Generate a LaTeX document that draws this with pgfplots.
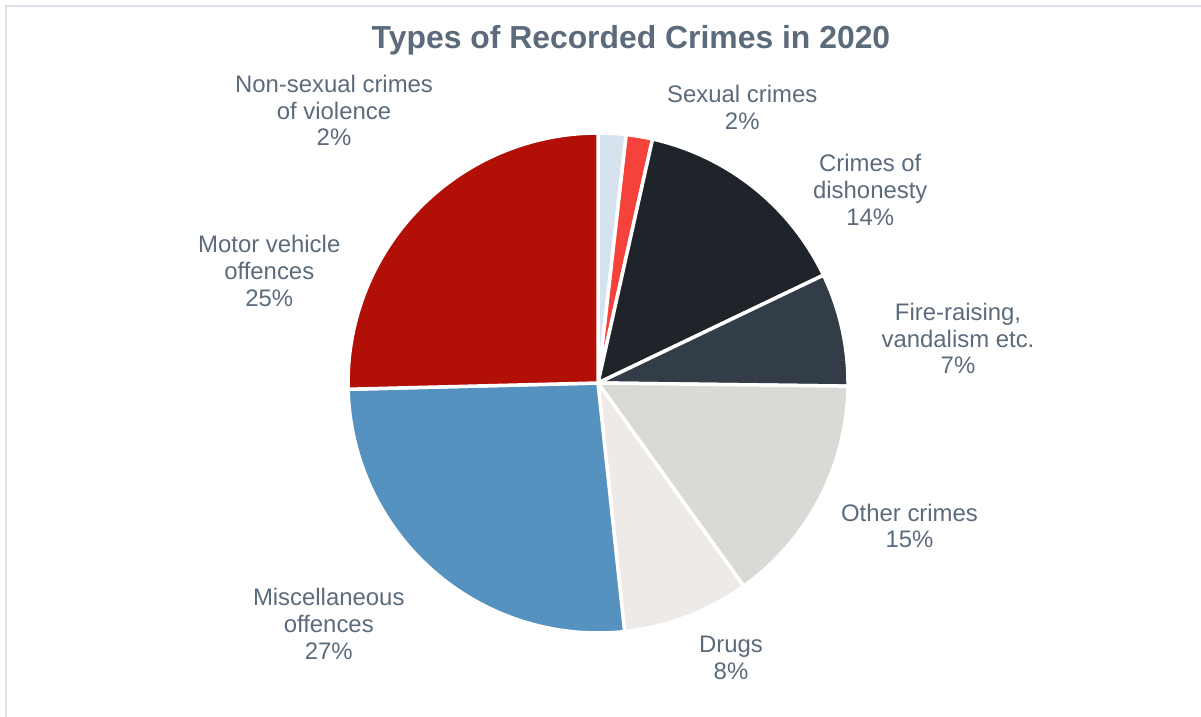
\documentclass[border=0pt]{standalone}
\usepackage{pgfplots}
\pgfplotsset{compat=1.18}
\usepackage{fontspec}
\setmainfont{Liberation Sans}
\definecolor{txt}{HTML}{5B6B7C}
\definecolor{frame}{HTML}{DCE3EB}
\definecolor{cA}{HTML}{D6E3EE}
\definecolor{cB}{HTML}{F5423A}
\definecolor{cC}{HTML}{1F242B}
\definecolor{cD}{HTML}{333D48}
\definecolor{cE}{HTML}{D9D9D5}
\definecolor{cF}{HTML}{EEEAE7}
\definecolor{cG}{HTML}{5592BF}
\definecolor{cH}{HTML}{B20F07}
\tikzset{lbl/.style={text=txt, align=center, font=\fontsize{24}{27}\selectfont}}
% shares in percent, clockwise from the top
\def\vA{1.8}  % Non-sexual crimes of violence
\def\vB{1.7}  % Sexual crimes
\def\vC{14.4} % Crimes of dishonesty
\def\vD{7.3}  % Fire-raising, vandalism etc.
\def\vE{14.9} % Other crimes
\def\vF{8.2}  % Drugs
\def\vG{26.3} % Miscellaneous offences
\def\vH{25.4} % Motor vehicle offences
\pgfmathsetmacro\aA{90}
\pgfmathsetmacro\aB{\aA-3.6*\vA}
\pgfmathsetmacro\aC{\aB-3.6*\vB}
\pgfmathsetmacro\aD{\aC-3.6*\vC}
\pgfmathsetmacro\aE{\aD-3.6*\vD}
\pgfmathsetmacro\aF{\aE-3.6*\vE}
\pgfmathsetmacro\aG{\aF-3.6*\vF}
\pgfmathsetmacro\aH{\aG-3.6*\vG}
\pgfmathsetmacro\aI{\aH-3.6*\vH}
\begin{document}
\begin{tikzpicture}[x=1bp,y=1bp]
\path[use as bounding box, fill=white] (0,0) rectangle (1201,717);
\draw[frame, line width=2.5bp] (6,0) -- (6,711) -- (1201,711);
\node[text=txt, font=\fontsize{32}{36}\selectfont\bfseries] at (631,677) {Types of Recorded Crimes in 2020};
\begin{axis}[
  at={(598bp,334bp)}, anchor=center,
  scale only axis, width=500bp, height=500bp,
  xmin=-1, xmax=1, ymin=-1, ymax=1,
  hide axis, clip=false,
]
\addplot[fill=cA, draw=white, line width=3.5bp, domain=\aB:\aA, samples=30] ({cos(x)},{sin(x)}) -- (axis cs:0,0) -- cycle;
\addplot[fill=cB, draw=white, line width=3.5bp, domain=\aC:\aB, samples=30] ({cos(x)},{sin(x)}) -- (axis cs:0,0) -- cycle;
\addplot[fill=cC, draw=white, line width=3.5bp, domain=\aD:\aC, samples=60] ({cos(x)},{sin(x)}) -- (axis cs:0,0) -- cycle;
\addplot[fill=cD, draw=white, line width=3.5bp, domain=\aE:\aD, samples=40] ({cos(x)},{sin(x)}) -- (axis cs:0,0) -- cycle;
\addplot[fill=cE, draw=white, line width=3.5bp, domain=\aF:\aE, samples=60] ({cos(x)},{sin(x)}) -- (axis cs:0,0) -- cycle;
\addplot[fill=cF, draw=white, line width=3.5bp, domain=\aG:\aF, samples=40] ({cos(x)},{sin(x)}) -- (axis cs:0,0) -- cycle;
\addplot[fill=cG, draw=white, line width=3.5bp, domain=\aH:\aG, samples=90] ({cos(x)},{sin(x)}) -- (axis cs:0,0) -- cycle;
\addplot[fill=cH, draw=white, line width=3.5bp, domain=\aI:\aH, samples=90] ({cos(x)},{sin(x)}) -- (axis cs:0,0) -- cycle;
\node[lbl] at (axis cs:-1.056,1.090) {Non-sexual crimes\\of violence\\2\%};
\node[lbl] at (axis cs:0.577,1.102) {Sexual crimes\\2\%};
\node[lbl] at (axis cs:1.089,0.771) {Crimes of\\dishonesty\\14\%};
\node[lbl] at (axis cs:1.44,0.178) {Fire-raising,\\vandalism etc.\\7\%};
\node[lbl] at (axis cs:1.246,-0.572) {Other crimes\\15\%};
\node[lbl] at (axis cs:0.532,-1.100) {Drugs\\8\%};
\node[lbl] at (axis cs:-1.077,-0.963) {Miscellaneous\\offences\\27\%};
\node[lbl] at (axis cs:-1.315,0.449) {Motor vehicle\\offences\\25\%};
\end{axis}
\end{tikzpicture}
\end{document}
